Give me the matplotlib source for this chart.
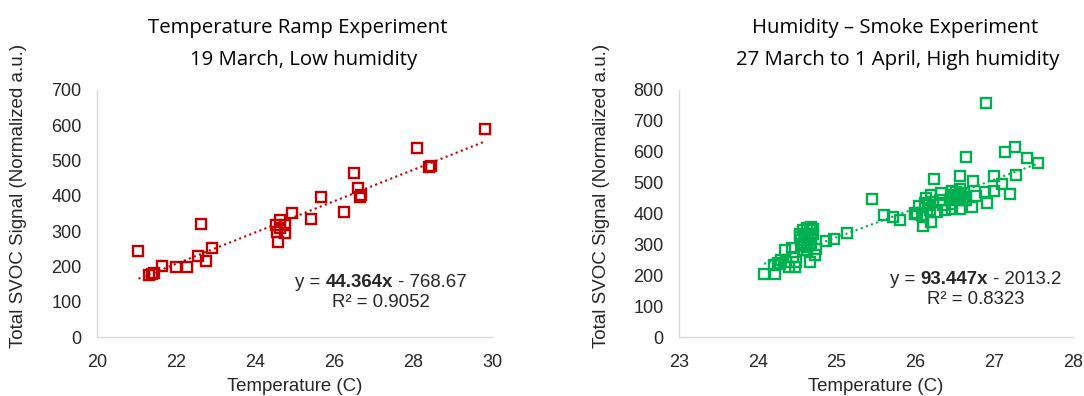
import matplotlib
matplotlib.use("Agg")
import matplotlib.pyplot as plt
import numpy as np

# ---- data ----
left_x = [21.05, 21.32, 21.45, 21.38, 21.65, 22.01, 22.29, 22.55, 22.63, 22.75, 22.92,
          24.52, 24.64, 24.77, 24.56, 24.77, 24.59, 24.64, 24.93, 25.43, 25.66, 26.25,
          26.51, 26.61, 26.68, 26.66, 28.11, 28.40, 28.46, 29.82]
left_y = [245, 176, 180, 178, 202, 199, 199, 230, 319, 215, 251,
          317, 331, 317, 298, 294, 268, 308, 352, 333, 396, 355,
          464, 421, 402, 398, 536, 481, 484, 590]

right_x = [24.08, 24.22, 24.20, 24.28, 24.36, 24.34, 24.43, 24.47, 24.49, 24.39, 24.45, 24.30, 24.25,
           24.66, 24.72, 24.74,
           24.53, 24.55, 24.58, 24.60, 24.62, 24.64, 24.66, 24.67, 24.58, 24.62, 24.68, 24.55, 24.60,
           24.64, 24.70, 24.53, 24.66, 24.68, 24.57, 24.63, 24.70,
           24.86, 24.97, 25.13, 25.45, 25.60, 25.72, 25.81,
           26.00, 26.02, 26.10, 26.10, 26.20, 26.16, 26.20, 26.24, 26.33, 26.27, 26.37, 26.46, 26.46,
           26.56, 26.63, 26.14, 26.22, 26.31, 26.18, 26.35, 26.05, 25.99, 26.09, 26.12,
           26.48, 26.52, 26.56, 26.58, 26.54, 26.60, 26.50, 26.56, 26.44, 26.64, 26.62, 26.47,
           26.56, 26.64, 26.73, 26.72, 26.77, 26.88, 26.90, 26.91, 27.00, 27.00, 27.10, 27.14,
           27.20, 27.27, 27.28, 27.41, 27.55]
right_y = [205, 205, 232, 235, 243, 283, 289, 227, 243, 227, 259, 250, 240,
           243, 265, 286,
           324, 313, 303, 324, 292, 335, 346, 357, 281, 281, 324, 297, 335,
           313, 335, 335, 297, 303, 346, 352, 350,
           311, 319, 338, 446, 395, 389, 378,
           397, 400, 389, 360, 373, 427, 459, 511, 465, 405, 411, 432, 416,
           414, 443, 449, 438, 443, 411, 427, 423, 401, 396, 434,
           460, 470, 478, 462, 450, 455, 455, 445, 445, 445, 468, 472,
           522, 584, 505, 422, 458, 470, 757, 435, 522, 472, 494, 600,
           463, 616, 524, 580, 562]

left_fit = (44.364, -768.67)
right_fit = (93.447, -2013.2)
left_eq = ("y = ", "44.364x", " - 768.67", "R\u00b2 = 0.9052")
right_eq = ("y = ", "93.447x", " - 2013.2", "R\u00b2 = 0.8323")

left_titles = ("Temperature Ramp Experiment", "19 March, Low humidity")
right_titles = ("Humidity \u2013 Smoke Experiment", "27 March to 1 April, High humidity")

x_label = "Temperature (C)"
y_label = "Total SVOC Signal (Normalized a.u.)"

RED = "#C00000"
GREEN = "#00B050"
AX_FONT = "Liberation Sans"
TITLE_FONT = "Open Sans"
TXT = "#262626"

W, H = 1084, 396
fig = plt.figure(figsize=(W / 100, H / 100), dpi=100)


def px_rect(x0, x1, ytop, ybot):
    return [x0 / W, 1 - ybot / H, (x1 - x0) / W, (ybot - ytop) / H]


def style_axes(ax, xlim, xticks, ylim, yticks):
    ax.set_xlim(*xlim)
    ax.set_ylim(*ylim)
    ax.set_xticks(xticks)
    ax.set_yticks(yticks)
    for s in ("top", "right"):
        ax.spines[s].set_visible(False)
    for s in ("left", "bottom"):
        ax.spines[s].set_color("#d9d9d9")
        ax.spines[s].set_linewidth(1.0)
    ax.tick_params(length=0, labelsize=13, colors=TXT)
    ax.tick_params(axis="y", pad=11)
    ax.tick_params(axis="x", pad=12.5)
    for lab in ax.get_xticklabels() + ax.get_yticklabels():
        lab.set_fontfamily(AX_FONT)
    ax.set_xlabel(x_label, fontsize=13.4, family=AX_FONT, color=TXT, labelpad=5)
    ax.patch.set_alpha(0)


def draw(ax, xs, ys, fit, color):
    ax.plot(xs, ys, linestyle="none", marker="s", markersize=7.2,
            markerfacecolor="none", markeredgecolor=color, markeredgewidth=1.7, zorder=3)
    lo, hi = min(xs), max(xs)
    xx = np.array([lo, hi])
    ax.plot(xx, fit[0] * xx + fit[1], linestyle=(0, (1, 1.6)), color=color, lw=1.5, zorder=2)


axL = fig.add_axes(px_rect(97, 492, 90, 337))
axR = fig.add_axes(px_rect(679, 1073, 90, 337))
style_axes(axL, (20, 30), np.arange(20, 31, 2), (0, 700), np.arange(0, 701, 100))
style_axes(axR, (23, 28), np.arange(23, 29, 1), (0, 800), np.arange(0, 801, 100))
draw(axL, left_x, left_y, left_fit, RED)
draw(axR, right_x, right_y, right_fit, GREEN)

for ax in (axL, axR):
    ax.set_ylabel(y_label, fontsize=13.5, family=AX_FONT, color=TXT)
axL.yaxis.set_label_coords(-(97 - 19) / 395, (337 - 196) / 247)
axR.yaxis.set_label_coords(-(679 - 601) / 394, (337 - 196) / 247)
for ax in (axL, axR):
    ax.yaxis.label.set_verticalalignment("center")

# titles
def title(cx, base, s):
    fig.text(cx / W, 1 - base / H, s, ha="center", va="baseline",
             fontsize=14.7, family=TITLE_FONT, color="#000000")


title(298, 33, left_titles[0])
title(304, 65, left_titles[1])
title(895, 33, right_titles[0])
title(898, 65, right_titles[1])

fig.canvas.draw()
renderer = fig.canvas.get_renderer()


def equation(cx, base, parts, r2):
    # compose "y = " + bold + rest, centered at cx, baseline at base (pixels from top)
    weights = ["normal", "bold", "normal"]
    texts = []
    for p, w in zip(parts, weights):
        t = fig.text(0, 0, p, fontsize=13.4, family=AX_FONT, weight=w,
                     color=TXT, va="baseline", ha="left")
        texts.append(t)
    widths = [t.get_window_extent(renderer).width for t in texts]
    total = sum(widths)
    x = cx - total / 2
    for t, wdt in zip(texts, widths):
        t.set_position((x / W, 1 - base / H))
        x += wdt
    fig.text(cx / W, 1 - (base + 20) / H, r2, fontsize=13.4, family=AX_FONT,
             color=TXT, ha="center", va="baseline")


equation(381, 287, left_eq[:3], left_eq[3])
equation(976, 284, right_eq[:3], right_eq[3])

fig.savefig("out.png", dpi=100)
